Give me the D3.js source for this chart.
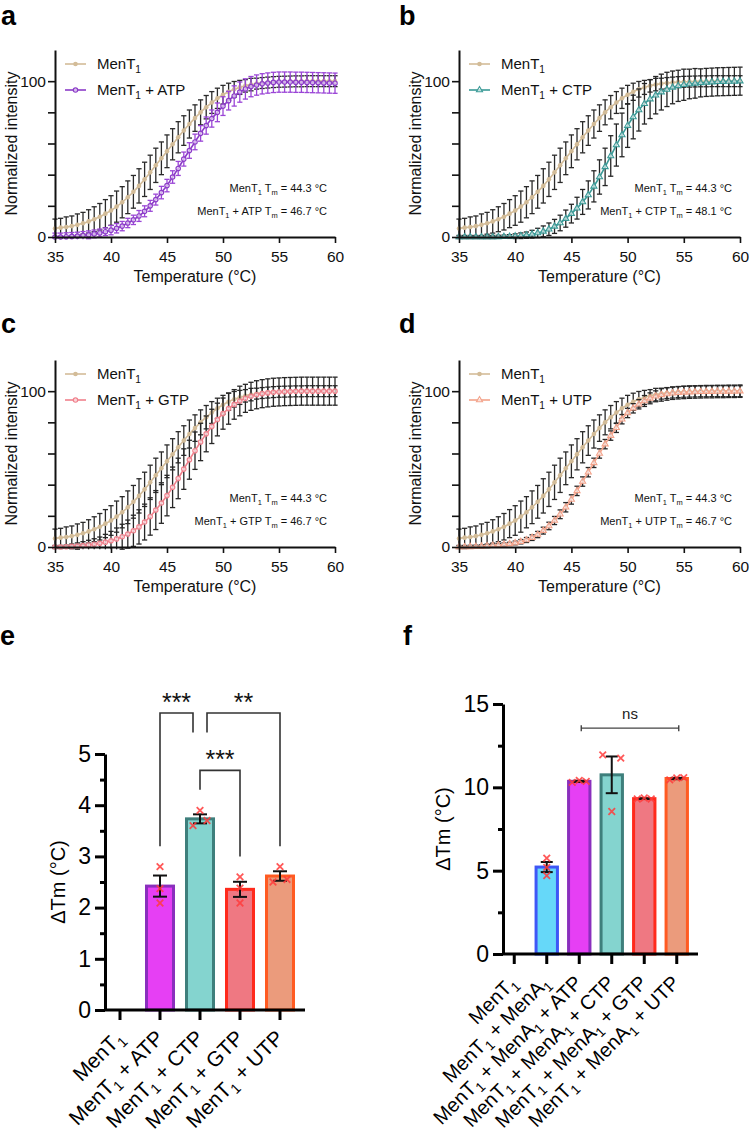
<!DOCTYPE html>
<html><head><meta charset="utf-8">
<script src="https://cdn.jsdelivr.net/npm/d3@7"></script>
<style>
body{margin:0;background:#fff}
svg{display:block}
text{font-family:"Liberation Sans",Arial,sans-serif;white-space:pre}
</style>
</head><body>
<svg id="chart" width="749" height="1133"></svg>
<script>
// ---------------- DATA ----------------
const temperatures = d3.range(35, 60.001, 0.5);

const ment1Values = [5.5,6,6.4,7,7.8,8.8,10,11.4,13,15,17,19.5,22.3,25.5,29,32.8,37,41.5,46,50.5,55,59.5,64,68.3,72.5,76.3,80,83.3,86.3,89,91.3,93.2,94.8,96,97,97.8,98.4,98.8,99.1,99.4,99.6,99.7,99.8,99.9,99.9,100,100,100,100,100,100];
const ment1Err = [6,6,6.5,6.5,7,7,7.5,8,8.5,9,9.5,10,10,10.5,10.5,11,11,11,11,10.5,10.5,10,10,9.5,9,8.5,8,7.5,7,6.5,6,5.5,5,4.5,4,4,3.5,3.5,3.5,3.5,3.5,3.5,3.5,3.5,3.5,3.5,3.5,3.5,3.5,3.5,3.5];

const atpValues = [0,0,0.2,0.4,0.6,1,1.4,2,2.6,3.4,4.4,5.6,7,9,11,13.5,16.5,20,24,28.5,33,38.5,44,50,55.5,61,66.5,71.5,76,80,84,87.5,90.5,93,95,96.5,97.5,98.3,98.8,99.2,99.4,99.4,99.4,99.3,99.3,99.2,99.1,99,98.9,98.8,98.7];
const atpErr = [2.5,2.5,2.5,2.5,2.5,2.5,2.5,2.5,2.5,2.5,3,3,3,3,3,3.5,3.5,3.5,3.5,4,4,4,4.5,4.5,5,5,5,5.5,5.5,6,6,6,6.5,6.5,6.5,6.5,6.5,6.5,6.5,6.5,6.5,6.5,6.5,6.5,6.5,6.5,6.5,6.5,6.5,6.5,6.5];

const ctpValues = [0,0,0,0,0,0,0,0.1,0.2,0.3,0.5,0.8,1.2,1.8,2.6,3.6,5,6.8,9,11.8,15,18.5,22.5,27,32.5,38.5,45,52,59,65.5,71.5,77,81.5,85.5,88.5,91,93,94.7,96,97,97.7,98.2,98.6,98.9,99.2,99.4,99.6,99.7,99.8,99.9,100];
const ctpErr = [1,1,1,1,1,1,1,1,1,1.2,1.5,1.8,2,2.5,3,3.5,4,4.5,5,5.5,6,7,8,9,10,11,12,13,13.5,14,14,14,13.5,13,12.5,12,11.5,11,10.5,10,10,9.5,9.5,9,9,9,9,9,9,9,9];

const gtpValues = [0,0,0.2,0.4,0.6,0.9,1.3,1.8,2.4,3.1,4,5.2,6.6,8.3,10.4,12.9,16,19.6,23.7,28.2,33,38.3,44,50,56,61.8,67.4,72.6,77.4,81.8,85.6,88.8,91.5,93.7,95.4,96.7,97.7,98.4,98.9,99.3,99.5,99.7,99.8,99.9,100,100,100,100,100,100,100];
const gtpErr = [1,1,1,1.5,2,2.5,3,3.5,4,5,6,7,8,9,10,11,11.5,12,12.5,13,13,13,13,13,12.5,12,12,11.5,11,10.5,10,10,9.5,9.5,9,9,9,9,9,9,9,9,9,9,9,9,9,9,9,9,9];

const utpValues = [0,0,0.1,0.2,0.4,0.6,0.9,1.2,1.6,2,2.6,3.4,4.5,6,8,10.5,13.5,17,21,25.5,30.5,36,42,48,54,60,66,71.5,76.5,82,86,89,91.6,93.7,95.4,96.7,97.6,98.2,98.7,99,99.2,99.4,99.5,99.6,99.7,99.7,99.8,99.8,99.9,99.9,100];
const utpErr = [1,1,1,1,1,1,1,1,1,1,1.2,1.4,1.6,1.8,2,2.2,2.4,2.6,2.8,3,3,3,3,3,3,3,3,3,3,3,3,3,3,3.5,3.5,3.5,4,4,4,4,4,4,4,4,4,4,4,4,4,4,4];

const ment1Tm = "44.3";
const panelNames = ["MenT_1 + ATP", "MenT_1 + CTP", "MenT_1 + GTP", "MenT_1 + UTP"];
const panelTms = ["46.7", "48.1", "46.7", "46.7"];
const panelLetters = ["a", "b", "c", "d"];

// panel e
const eCategories = ["MenT_1", "MenT_1 + ATP", "MenT_1 + CTP", "MenT_1 + GTP", "MenT_1 + UTP"];
const eReplicates = [[], [2.8, 2.37, 2.09], [3.6, 3.9, 3.7], [2.6, 2.38, 2.09], [2.5, 2.8, 2.55]];
const eComparisons = [
  {a: 1, b: 2, label: "***"},
  {a: 2, b: 4, label: "**"},
  {a: 2, b: 3, label: "***"}
];

// panel f
const fCategories = ["MenT_1", "MenT_1 + MenA_1", "MenT_1 + MenA_1 + ATP", "MenT_1 + MenA_1 + CTP", "MenT_1 + MenA_1 + GTP", "MenT_1 + MenA_1 + UTP"];
const fReplicates = [[], [5.75, 5.2, 4.7], [10.3, 10.42, 10.36], [11.95, 8.55, 11.75], [9.3, 9.36, 9.3], [10.45, 10.56, 10.58]];
const fComparison = {a: 2, b: 5, label: "ns"};

// ---------------- STYLE ----------------
const ment1Color = "#d3bc98";
const seriesStyles = [
  {color: "#8c3cc8", errColor: "#9a45d6", marker: "circle"},
  {color: "#3a9a97", errColor: "#262626", marker: "triangle"},
  {color: "#f0808c", errColor: "#262626", marker: "circle"},
  {color: "#f3a28a", errColor: "#262626", marker: "triangle"}
];
const barFill = {"MenT_1 + ATP": "#e63ff4", "MenT_1 + CTP": "#84d4cf", "MenT_1 + GTP": "#ef7882", "MenT_1 + UTP": "#eb9b7c",
  "MenT_1 + MenA_1": "#66d8f9", "MenT_1 + MenA_1 + ATP": "#e63ff4", "MenT_1 + MenA_1 + CTP": "#84d4cf", "MenT_1 + MenA_1 + GTP": "#ef7882", "MenT_1 + MenA_1 + UTP": "#eb9b7c"};
const barStroke = {"MenT_1 + ATP": "#8a2fbd", "MenT_1 + CTP": "#3e7f7c", "MenT_1 + GTP": "#ff2a1c", "MenT_1 + UTP": "#ff5b22",
  "MenT_1 + MenA_1": "#3e57f6", "MenT_1 + MenA_1 + ATP": "#8a2fbd", "MenT_1 + MenA_1 + CTP": "#3e7f7c", "MenT_1 + MenA_1 + GTP": "#ff2a1c", "MenT_1 + MenA_1 + UTP": "#ff5b22"};

const svg = d3.select("#chart");

function rich(textSel, str, size) {
  const parts = str.split(/(_\w)/).filter(s => s.length);
  let reset = 0;
  parts.forEach(p => {
    if (p[0] === "_" && p.length === 2) {
      textSel.append("tspan").attr("font-size", size * 0.68).attr("dy", size * 0.24).text(p[1]);
      reset = size * 0.24;
    } else {
      const t = textSel.append("tspan").text(p);
      if (reset) { t.attr("dy", -reset); reset = 0; }
    }
  });
  return textSel;
}

function marker(g, type, x, y, color, filled) {
  if (type === "circle") {
    g.append("circle").attr("cx", x).attr("cy", y).attr("r", filled ? 2.3 : 2.2)
      .attr("fill", filled ? color : "#fff").attr("fill-opacity", filled ? 1 : 0.6)
      .attr("stroke", color).attr("stroke-width", filled ? 0 : 1.2);
  } else {
    g.append("path").attr("d", d3.symbol(d3.symbolTriangle, 16)())
      .attr("transform", `translate(${x},${y})`)
      .attr("fill", "#fff").attr("fill-opacity", 0.6).attr("stroke", color).attr("stroke-width", 1.1);
  }
}

// ---------------- CURVE PANELS a-d ----------------
const curveLayout = [
  {x0: 55, x1: 335, yTop: 50, yBot: 237, lx: 1, ly: 25},
  {x0: 459, x1: 740, yTop: 50, yBot: 237, lx: 399, ly: 25},
  {x0: 55, x1: 335, yTop: 360, yBot: 547, lx: 1, ly: 333},
  {x0: 459, x1: 740, yTop: 360, yBot: 547, lx: 399, ly: 333}
];
const panelSeries = [
  {values: atpValues, err: atpErr},
  {values: ctpValues, err: ctpErr},
  {values: gtpValues, err: gtpErr},
  {values: utpValues, err: utpErr}
];

function drawSeries(g, x, y, vals, errs, color, errColor, mtype, filled) {
  const pts = temperatures.map((t, i) => ({t, v: vals[i], e: errs[i]}));
  const eb = g.append("g").attr("stroke", errColor).attr("stroke-width", 1.3).attr("fill", "none");
  pts.forEach(p => {
    const cx = x(p.t), yt = y(p.v + p.e), yb = y(Math.max(p.v - p.e, -1.5));
    eb.append("line").attr("x1", cx).attr("x2", cx).attr("y1", yt).attr("y2", yb);
    eb.append("line").attr("x1", cx - 2.6).attr("x2", cx + 2.6).attr("y1", yt).attr("y2", yt);
    if (p.v - p.e > -1.5) eb.append("line").attr("x1", cx - 2.6).attr("x2", cx + 2.6).attr("y1", yb).attr("y2", yb);
  });
  g.append("path").datum(pts).attr("fill", "none").attr("stroke", color).attr("stroke-width", 1.6)
    .attr("d", d3.line().x(d => x(d.t)).y(d => y(d.v)).curve(d3.curveMonotoneX));
  const mg = g.append("g");
  pts.forEach(p => marker(mg, mtype, x(p.t), y(p.v), color, filled));
}

curveLayout.forEach((L, k) => {
  const g = svg.append("g");
  const x = d3.scaleLinear().domain([35, 60]).range([L.x0, L.x1]);
  const y = d3.scaleLinear().domain([0, 120]).range([L.yBot, L.yTop]);
  const st = seriesStyles[k];
  const ser = panelSeries[k];

  drawSeries(g, x, y, ment1Values, ment1Err, ment1Color, "#2a2a2a", "circle", true);
  drawSeries(g, x, y, ser.values, ser.err, st.color, st.errColor, st.marker, false);

  const xa = g.append("g").attr("transform", `translate(0,${L.yBot})`)
    .call(d3.axisBottom(x).tickValues([35, 40, 45, 50, 55, 60]).tickSize(6).tickSizeOuter(0).tickPadding(8).tickFormat(d3.format("d")));
  const ya = g.append("g").attr("transform", `translate(${L.x0},0)`)
    .call(d3.axisLeft(y).tickValues([0, 20, 40, 60, 80, 100]).tickSize(7).tickSizeOuter(0).tickPadding(2)
      .tickFormat(d => (d === 0 || d === 100) ? d : ""));
  [xa, ya].forEach(a => {
    a.select(".domain").attr("stroke", "#111").attr("stroke-width", 2);
    a.selectAll(".tick line").attr("stroke", "#111").attr("stroke-width", 1.6);
    a.selectAll(".tick text").attr("fill", "#111").attr("font-size", 15.5).attr("font-family", "Liberation Sans, Arial, sans-serif");
  });
  g.append("text").attr("x", (L.x0 + L.x1) / 2).attr("y", L.yBot + 45).attr("text-anchor", "middle")
    .attr("font-size", 16).attr("fill", "#111").text("Temperature (°C)");
  g.append("text").attr("transform", `translate(${L.x0 - 38},${(L.yTop + L.yBot) / 2}) rotate(-90)`)
    .attr("text-anchor", "middle").attr("font-size", 16).attr("fill", "#111").text("Normalized intensity");

  const legendItems = [
    {name: "MenT_1", color: ment1Color, m: "circle", filled: true},
    {name: panelNames[k], color: st.color, m: st.marker, filled: false}
  ];
  legendItems.forEach((it, i) => {
    const ly = L.yTop + 14 + i * 26;
    g.append("line").attr("x1", L.x0 + 10).attr("x2", L.x0 + 31).attr("y1", ly).attr("y2", ly)
      .attr("stroke", it.color).attr("stroke-width", 1.6);
    marker(g, it.m, L.x0 + 20.5, ly, it.color, it.filled);
    rich(g.append("text").attr("x", L.x0 + 42).attr("y", ly + 5).attr("font-size", 15).attr("fill", "#111"), it.name, 15);
  });

  rich(g.append("text").attr("x", L.x1 - 8).attr("y", L.yBot - 45).attr("text-anchor", "end")
    .attr("font-size", 11).attr("fill", "#111"), `MenT_1 T_m = ${ment1Tm} °C`, 11);
  rich(g.append("text").attr("x", L.x1 - 8).attr("y", L.yBot - 22).attr("text-anchor", "end")
    .attr("font-size", 11).attr("fill", "#111"), `${panelNames[k]} T_m = ${panelTms[k]} °C`, 11);

  svg.append("text").attr("x", L.lx).attr("y", L.ly).attr("font-size", 27).attr("font-weight", "bold")
    .attr("fill", "#000").text(panelLetters[k]);
});

// ---------------- BAR PANELS ----------------
function sem(arr) { return arr.length > 1 ? d3.deviation(arr) / Math.sqrt(arr.length) : 0; }

function drawBars(cfg) {
  const g = svg.append("g");
  const x = d3.scaleBand().domain(cfg.categories).range(cfg.xRange).paddingInner(0.25).paddingOuter(0.125);
  const y = d3.scaleLinear().domain(cfg.yDomain).range(cfg.yRange);
  const bw = x.bandwidth();
  const cx = c => x(c) + bw / 2;
  const stats = cfg.categories.map((c, i) => ({c, reps: cfg.replicates[i], mean: cfg.replicates[i].length ? d3.mean(cfg.replicates[i]) : 0, sem: sem(cfg.replicates[i])}));

  stats.filter(s => s.mean > 0).forEach(s => {
    g.append("rect").attr("x", x(s.c) + 1.5).attr("width", bw - 3)
      .attr("y", y(s.mean)).attr("height", y(0) - y(s.mean))
      .attr("fill", barFill[s.c]).attr("stroke", barStroke[s.c]).attr("stroke-width", 3);
  });
  stats.filter(s => s.mean > 0).forEach(s => {
    const e = g.append("g").attr("stroke", "#111").attr("stroke-width", 2);
    const c = cx(s.c), t = y(s.mean + s.sem), b = y(s.mean - s.sem);
    e.append("line").attr("x1", c).attr("x2", c).attr("y1", t).attr("y2", b);
    e.append("line").attr("x1", c - cfg.cap).attr("x2", c + cfg.cap).attr("y1", t).attr("y2", t);
    e.append("line").attr("x1", c - cfg.cap).attr("x2", c + cfg.cap).attr("y1", b).attr("y2", b);
  });
  stats.forEach((s, i) => {
    s.reps.forEach((v, j) => {
      const dx = cfg.jitter[i][j];
      g.append("path").attr("d", "M-3.3,-3.3L3.3,3.3M-3.3,3.3L3.3,-3.3")
        .attr("transform", `translate(${cx(s.c) + dx},${y(v)})`)
        .attr("stroke", "#ff3b3b").attr("stroke-opacity", 0.85).attr("stroke-width", 1.8).attr("fill", "none");
    });
  });

  const ya = g.append("g").attr("transform", `translate(${cfg.xRange[0] + cfg.axisShift},0)`)
    .call(d3.axisLeft(y).tickValues(cfg.majorTicks).tickSize(10).tickSizeOuter(0).tickPadding(4).tickFormat(d3.format("d")));
  const ym = g.append("g").attr("transform", `translate(${cfg.xRange[0] + cfg.axisShift},0)`)
    .call(d3.axisLeft(y).tickValues(cfg.minorTicks).tickSize(5).tickFormat(""));
  ym.select(".domain").remove();
  const xa = g.append("g").attr("transform", `translate(0,${y(0)})`)
    .call(d3.axisBottom(x).tickSize(10).tickSizeOuter(0).tickFormat(""));
  xa.select(".domain").attr("d", `M${cfg.xRange[0] + cfg.axisShift},0H${cfg.xEnd}`);
  [ya, ym, xa].forEach(a => {
    a.selectAll(".domain").attr("stroke", "#000").attr("stroke-width", 3);
    a.selectAll(".tick line").attr("stroke", "#000").attr("stroke-width", 3);
  });
  ya.selectAll(".tick text").attr("fill", "#000").attr("font-size", 23).attr("font-family", "Liberation Sans, Arial, sans-serif");

  cfg.categories.forEach(c => {
    rich(g.append("text").attr("transform", `translate(${cx(c) + cfg.labelDx},${y(0) + cfg.labelDy}) rotate(-45)`)
      .attr("text-anchor", "end").attr("font-size", cfg.labelSize).attr("fill", "#000"), c, cfg.labelSize);
  });
  g.append("text").attr("transform", `translate(${cfg.xRange[0] + cfg.axisShift + cfg.titleDx},${(cfg.yRange[0] + cfg.yRange[1]) / 2}) rotate(-90)`)
    .attr("text-anchor", "middle").attr("font-size", 20).attr("fill", "#000").text("ΔTm (°C)");
  return {g, x, y, cx};
}

// panel e
const E = drawBars({
  categories: eCategories, replicates: eReplicates,
  xRange: [100, 300], axisShift: 5, xEnd: 305,
  yDomain: [0, 5], yRange: [1010, 754],
  majorTicks: [0, 1, 2, 3, 4, 5], minorTicks: d3.range(0.5, 5, 1),
  cap: 7, jitter: [[], [0, 0, 0], [-7, 0, 7], [0, 0, 0], [-7, 0, 7]],
  labelDx: 5, labelDy: 29, labelSize: 21, titleDx: -40
});
const eBr = [
  {x1: E.cx(eCategories[1]), x2: E.cx(eCategories[2]) - 7, top: 5.8, l: 3.2, r: 5.42},
  {x1: E.cx(eCategories[2]) + 7, x2: E.cx(eCategories[4]), top: 5.8, l: 5.42, r: 3.2},
  {x1: E.cx(eCategories[2]), x2: E.cx(eCategories[3]), top: 4.68, l: 4.3, r: 3.0}
];
eComparisons.forEach((cmp, i) => {
  const b = eBr[i];
  const yT = E.y(b.top);
  E.g.append("path").attr("d", `M${b.x1},${E.y(b.l)}V${yT}H${b.x2}V${E.y(b.r)}`)
    .attr("fill", "none").attr("stroke", "#333").attr("stroke-width", 1.6);
  E.g.append("text").attr("x", (b.x1 + b.x2) / 2).attr("y", yT - 2).attr("text-anchor", "middle")
    .attr("font-size", 25).attr("fill", "#111").text(cmp.label);
});
svg.append("text").attr("x", 0).attr("y", 645).attr("font-size", 27).attr("font-weight", "bold").text("e");

// panel f
const F = drawBars({
  categories: fCategories, replicates: fReplicates,
  xRange: [498, 693], axisShift: 5, xEnd: 698,
  yDomain: [0, 15], yRange: [954, 704],
  majorTicks: [0, 5, 10, 15], minorTicks: [2.5, 7.5, 12.5],
  cap: 6, jitter: [[], [0, 0, 0], [-7, 0, 7], [-9, 0, 9], [-7, 0, 7], [-7, 0, 7]],
  labelDx: 4, labelDy: 30, labelSize: 20, titleDx: -53
});
{
  const x1 = F.cx(fCategories[fComparison.a]) + 2, x2 = F.cx(fCategories[fComparison.b]) + 2, yl = F.y(13.55);
  F.g.append("path").attr("d", `M${x1},${yl - 3}V${yl + 3}M${x1},${yl}H${x2}M${x2},${yl - 3}V${yl + 3}`)
    .attr("fill", "none").attr("stroke", "#444").attr("stroke-width", 1.4);
  F.g.append("text").attr("x", (x1 + x2) / 2).attr("y", yl - 9).attr("text-anchor", "middle")
    .attr("font-size", 15).attr("fill", "#222").text(fComparison.label);
}
svg.append("text").attr("x", 403).attr("y", 645).attr("font-size", 27).attr("font-weight", "bold").text("f");
</script>
</body></html>
